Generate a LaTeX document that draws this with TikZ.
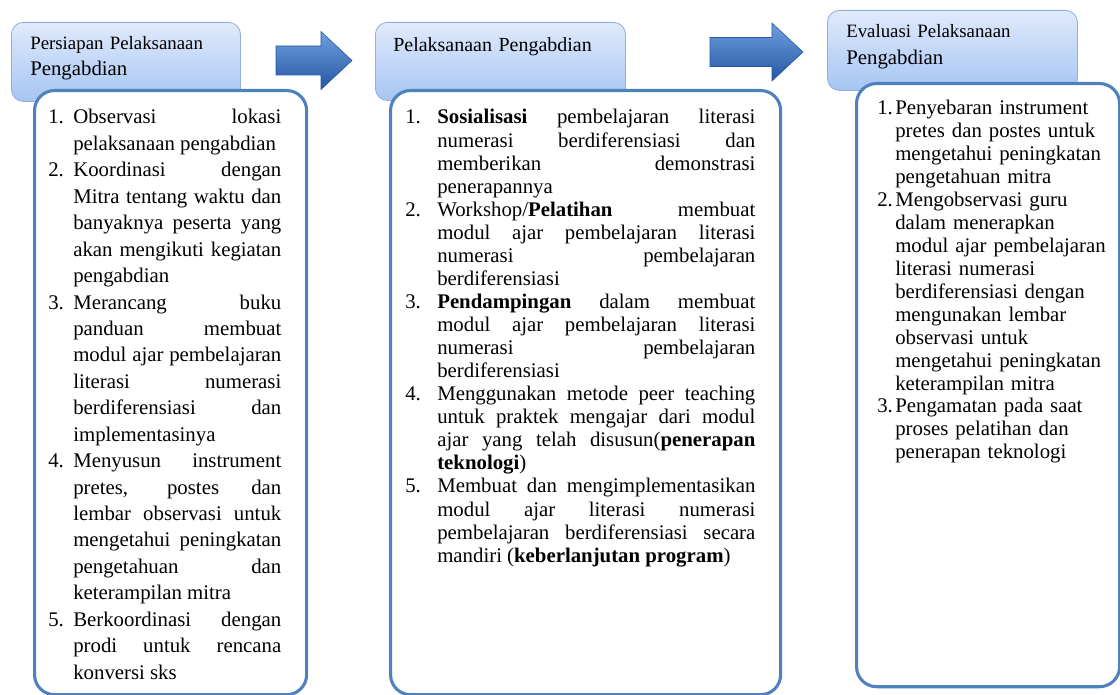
\documentclass[tikz,border=0pt]{standalone}
\usepackage{fontspec}
\setmainfont{Liberation Serif}

\definecolor{hdrtop}{RGB}{224,234,251}
\definecolor{hdrbot}{RGB}{166,197,243}
\definecolor{hdrline}{RGB}{143,175,225}
\definecolor{boxline}{RGB}{79,129,189}
\definecolor{arrtop}{RGB}{112,160,224}
\definecolor{arrbot}{RGB}{36,86,162}

% numbered item with hanging indent (items are separated by \par)
\newcommand{\itm}[2]{\hangindent=#1\hangafter=1\noindent\makebox[#1][l]{#2}}
% block arrow: left x, middle y, head base x, tip x
\newcommand{\blockarrow}[4]{%
  \shade[arrowfill] (#1,#2-14.5) -- (#3,#2-14.5) -- (#3,#2-29) -- (#4,#2)
    -- (#3,#2+29) -- (#3,#2+14.5) -- (#1,#2+14.5) -- cycle;}

\tolerance=10000
\hbadness=10000
\hyphenpenalty=10000

\begin{document}
\begin{tikzpicture}[
		x=0.025cm, y=-0.025cm,
		hdr/.style={rectangle, rounded corners=0.3cm, draw=hdrline, line width=0.6pt,
			top color=hdrtop, bottom color=hdrbot, anchor=north west},
		panel/.style={rectangle, rounded corners=0.5cm, draw=boxline, line width=2.2pt,
			fill=white, anchor=north west},
		hdrtext/.style={anchor=base west, text width=6cm, align=left, inner sep=0pt},
		listtext/.style={anchor=base west, inner sep=0pt, align=justify},
		arrowfill/.style={top color=arrtop, bottom color=arrbot, draw=arrbot, line width=0.4pt}
		]
	\useasboundingbox (0,0) rectangle (1120,695);

	% header boxes
	\node[hdr, minimum width=5.725cm, minimum height=1.975cm](hdrA) at (11,22){};
	\node[hdr, minimum width=6.25cm, minimum height=1.95cm](hdrB) at (375,22){};
	\node[hdr, minimum width=6.25cm, minimum height=2cm](hdrC) at (827,10){};

	\node[hdrtext, font=\fontsize{13.4}{17.8}\selectfont](tA) at (30,50){Persiapan Pelaksanaan\\
		\fontsize{14.8}{17.8}\selectfont Pengabdian};
	\node[hdrtext, font=\fontsize{14.2}{17.8}\selectfont](tB) at (393,52){Pelaksanaan Pengabdian};
	\node[hdrtext, font=\fontsize{13.4}{19.2}\selectfont](tC) at (846,38){Evaluasi Pelaksanaan\\
		\fontsize{14.8}{19.2}\selectfont Pengabdian};

	% arrows between the stages
	\blockarrow{276}{60.5}{321}{352}
	\blockarrow{710}{52}{772}{803}

	% content panels
	\node[panel, minimum width=6.8cm, minimum height=15.1cm](boxA) at (33,89){};
	\node[panel, minimum width=9.75cm, minimum height=15.1cm](boxB) at (389,89){};
	\node[panel, minimum width=6.575cm, minimum height=15.075cm](boxC) at (855,82){};

	\node[listtext, text width=5.825cm, font=\fontsize{14.8}{18.8}\selectfont](listA) at (48,124){%
		\itm{0.625cm}{1.}Observasi lokasi\linebreak pelaksanaan pengabdian\par
		\itm{0.625cm}{2.}Koordinasi dengan\linebreak Mitra tentang waktu dan\linebreak
			banyaknya peserta yang\linebreak akan mengikuti kegiatan\linebreak pengabdian\par
		\itm{0.625cm}{3.}Merancang buku\linebreak panduan membuat\linebreak
			modul ajar pembelajaran\linebreak literasi numerasi\linebreak
			berdiferensiasi dan\linebreak implementasinya\par
		\itm{0.625cm}{4.}Menyusun instrument\linebreak pretes, postes dan\linebreak
			lembar observasi untuk\linebreak mengetahui peningkatan\linebreak
			pengetahuan dan\linebreak keterampilan mitra\par
		\itm{0.625cm}{5.}Berkoordinasi dengan\linebreak prodi untuk rencana\linebreak konversi sks\par};

	\node[listtext, text width=8.75cm, font=\fontsize{14.8}{16.4}\selectfont](listB) at (405,124){%
		\itm{0.8cm}{1.}\textbf{Sosialisasi} pembelajaran literasi\linebreak
			numerasi berdiferensiasi dan\linebreak memberikan demonstrasi\linebreak penerapannya\par
		\itm{0.8cm}{2.}Workshop/\textbf{Pelatihan} membuat\linebreak
			modul ajar pembelajaran literasi\linebreak numerasi pembelajaran\linebreak berdiferensiasi\par
		\itm{0.8cm}{3.}\textbf{Pendampingan} dalam membuat\linebreak
			modul ajar pembelajaran literasi\linebreak numerasi pembelajaran\linebreak berdiferensiasi\par
		\itm{0.8cm}{4.}Menggunakan metode peer teaching\linebreak
			untuk praktek mengajar dari modul\linebreak
			ajar yang telah disusun(\textbf{penerapan}\linebreak \textbf{teknologi})\par
		\itm{0.8cm}{5.}Membuat dan mengimplementasikan\linebreak
			modul ajar literasi numerasi\linebreak
			pembelajaran berdiferensiasi secara\linebreak
			mandiri (\textbf{keberlanjutan program})\par};

	\node[listtext, align=left, text width=5.9cm, font=\fontsize{14.8}{16.3}\selectfont](listC) at (877,115){%
		\itm{0.45cm}{1.}Penyebaran instrument\newline pretes dan postes untuk\newline
			mengetahui peningkatan\newline pengetahuan mitra\par
		\itm{0.45cm}{2.}Mengobservasi guru\newline dalam menerapkan\newline
			modul ajar pembelajaran\newline literasi numerasi\newline
			berdiferensiasi dengan\newline mengunakan lembar\newline
			observasi untuk\newline mengetahui peningkatan\newline keterampilan mitra\par
		\itm{0.45cm}{3.}Pengamatan pada saat\newline proses pelatihan dan\newline
			penerapan teknologi\par};
\end{tikzpicture}
\end{document}
